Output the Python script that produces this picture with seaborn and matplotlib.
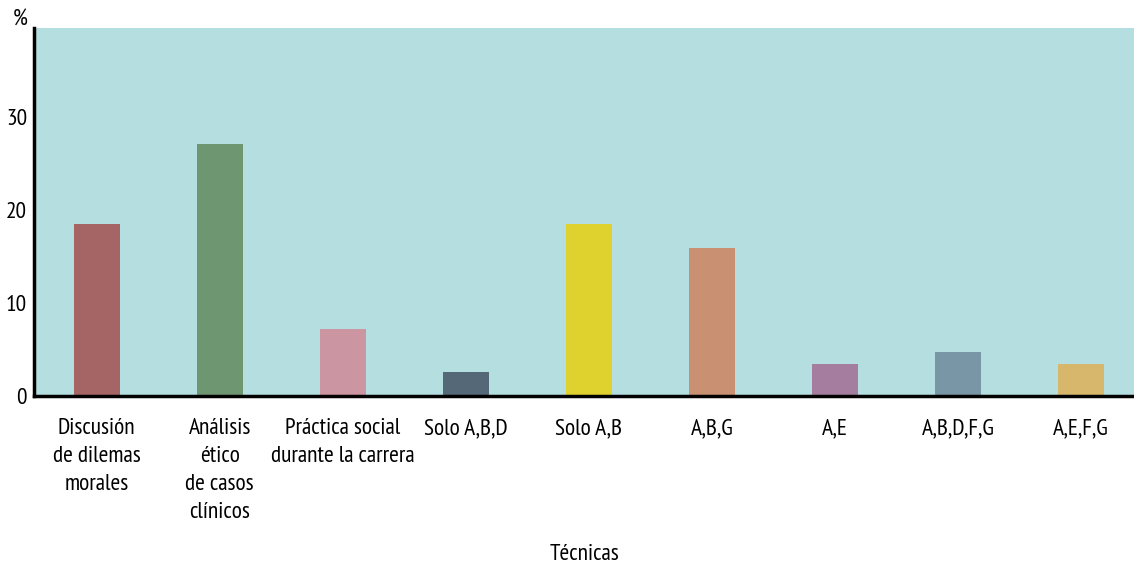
import pandas as pd
import matplotlib.pyplot as plt
import matplotlib.transforms as mtransforms
import seaborn as sns

# ── Data ──────────────────────────────────────────────────────────────────────

tecnicas = [
    "Discusión\nde dilemas\nmorales",
    "Análisis\nético\nde casos\nclínicos",
    "Práctica social\ndurante la carrera",
    "Solo A,B,D",
    "Solo A,B",
    "A,B,G",
    "A,E",
    "A,B,D,F,G",
    "A,E,F,G",
]
porcentajes = [18.5, 27.1, 7.2, 2.6, 18.5, 15.9, 3.5, 4.8, 3.5]
colores = ["#A66565", "#6E9670", "#CC95A2", "#546878", "#E0D22E",
           "#C99172", "#A57D9F", "#7896A6", "#D6B76C"]
y_ticks = [0, 10, 20, 30]

# ── Plot ──────────────────────────────────────────────────────────────────────

sns.set_style("white")
plt.rcParams["font.family"] = ["PT Sans Narrow", "Asap Condensed", "DejaVu Sans"]
plt.rcParams["text.color"] = "black"
plt.rcParams["xtick.color"] = "black"
plt.rcParams["ytick.color"] = "black"
plt.rcParams["axes.labelcolor"] = "black"

FS = 16.8

df = pd.DataFrame({"tecnica": tecnicas, "pct": porcentajes})

fig = plt.figure(figsize=(11.34, 5.66), dpi=100)
ax = fig.add_axes([0.030, 0.300, 0.970, 0.6505])
ax.set_facecolor("#B5DEE0")

sns.barplot(data=df, x="tecnica", y="pct", hue="tecnica", palette=colores,
            width=0.374, saturation=1, linewidth=0, legend=False, ax=ax)

ax.set_xlim(-0.51, 8.43)
ax.set_ylim(0, 39.6)
ax.set_yticks(y_ticks)
ax.tick_params(axis="both", length=0, labelsize=FS)
ax.tick_params(axis="x", pad=16)
ax.tick_params(axis="y", pad=5)
for lbl in ax.get_xticklabels():
    lbl.set_linespacing(1.42)

sns.despine(ax=ax)
for side in ("left", "bottom"):
    ax.spines[side].set_linewidth(2.5)
    ax.spines[side].set_color("black")

# "%" sits where a 40 tick label would be
trans = mtransforms.blended_transform_factory(ax.transAxes, ax.transData)
ax.text(-0.006, 40.5, "%", transform=trans, ha="right", va="center",
        fontsize=FS, clip_on=False)

ax.set_ylabel("")
ax.set_xlabel("Técnicas", fontsize=FS)
ax.xaxis.set_label_coords(0.5, -0.402)

fig.savefig("out.png", dpi=100)
